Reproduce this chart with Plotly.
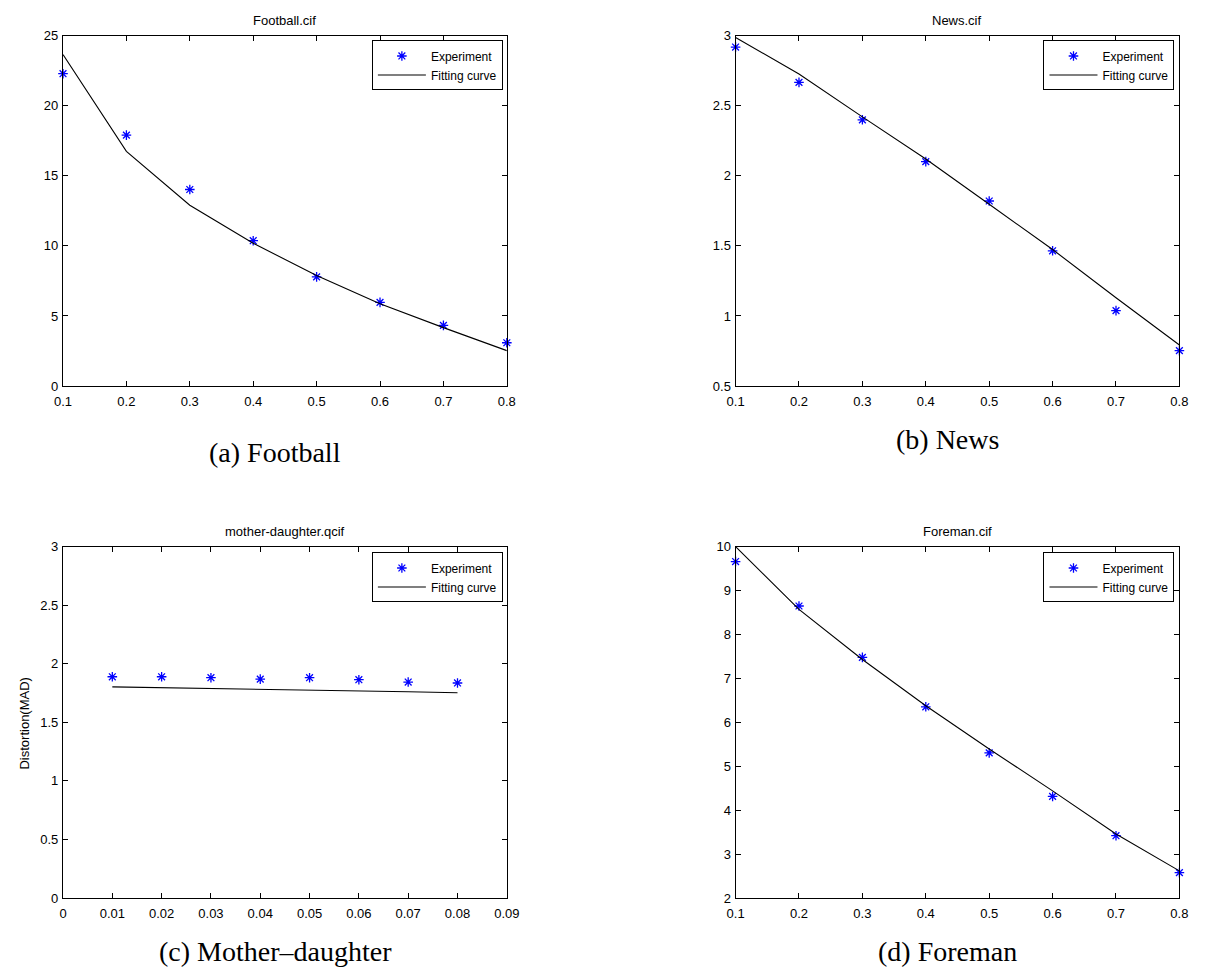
import plotly.graph_objects as go

# ---------------- data ----------------
x_rate = [0.1, 0.2, 0.3, 0.4, 0.5, 0.6, 0.7, 0.8]
x_md = [0.01, 0.02, 0.03, 0.04, 0.05, 0.06, 0.07, 0.08]

football_exp = [22.28, 17.9, 14.02, 10.37, 7.79, 5.97, 4.33, 3.09]
football_fit = [23.64, 16.74, 12.9, 10.19, 7.88, 5.88, 4.17, 2.53]

news_exp = [2.918, 2.666, 2.399, 2.101, 1.82, 1.465, 1.038, 0.753]
news_fit = [2.986, 2.726, 2.42, 2.12, 1.797, 1.474, 1.13, 0.793]

md_exp = [1.889, 1.889, 1.881, 1.869, 1.881, 1.864, 1.844, 1.836]
md_fit = [1.803, 1.797, 1.790, 1.782, 1.773, 1.768, 1.761, 1.753]

foreman_exp = [9.66, 8.648, 7.479, 6.354, 5.305, 4.314, 3.42, 2.579]
foreman_fit = [10.0, 8.57, 7.43, 6.377, 5.394, 4.44, 3.458, 2.62]

x_ticks_rate = [0.1, 0.2, 0.3, 0.4, 0.5, 0.6, 0.7, 0.8]
x_ticklabels_rate = ["0.1", "0.2", "0.3", "0.4", "0.5", "0.6", "0.7", "0.8"]
x_ticks_md = [0, 0.01, 0.02, 0.03, 0.04, 0.05, 0.06, 0.07, 0.08, 0.09]
x_ticklabels_md = ["0", "0.01", "0.02", "0.03", "0.04", "0.05", "0.06", "0.07", "0.08", "0.09"]

y_ticks_football = [0, 5, 10, 15, 20, 25]
y_ticks_news = [0.5, 1, 1.5, 2, 2.5, 3]
y_ticklabels_news = ["0.5", "1", "1.5", "2", "2.5", "3"]
y_ticks_md = [0, 0.5, 1, 1.5, 2, 2.5, 3]
y_ticklabels_md = ["0", "0.5", "1", "1.5", "2", "2.5", "3"]
y_ticks_foreman = [2, 3, 4, 5, 6, 7, 8, 9, 10]

titles = ["Football.cif", "News.cif", "mother-daughter.qcif", "Foreman.cif"]
captions = ["(a) Football", "(b) News", "(c) Mother\u2013daughter", "(d) Foreman"]
legend_names = ["Experiment", "Fitting curve"]

# ---------------- layout geometry ----------------
W, H = 1214, 977

def px_x(p):
    return p / W

def px_y(p):
    return 1 - p / H

panels = [
    dict(x=x_rate, exp=football_exp, fit=football_fit, xr=[0.1, 0.8], yr=[0, 25],
         xt=x_ticks_rate, xtl=x_ticklabels_rate, yt=y_ticks_football,
         ytl=[str(v) for v in y_ticks_football],
         box=(55, 507, 29, 385), leg=(503, 34), cap=(271, 452)),
    dict(x=x_rate, exp=news_exp, fit=news_fit, xr=[0.1, 0.8], yr=[0.5, 3],
         xt=x_ticks_rate, xtl=x_ticklabels_rate, yt=y_ticks_news, ytl=y_ticklabels_news,
         box=(740, 1192, 29, 385), leg=(1187, 34), cap=(956, 439)),
    dict(x=x_md, exp=md_exp, fit=md_fit, xr=[0, 0.09], yr=[0, 3],
         xt=x_ticks_md, xtl=x_ticklabels_md, yt=y_ticks_md, ytl=y_ticklabels_md,
         box=(55, 507, 548, 905), leg=(503, 554), cap=(271, 959)),
    dict(x=x_rate, exp=foreman_exp, fit=foreman_fit, xr=[0.1, 0.8], yr=[2, 10],
         xt=x_ticks_rate, xtl=x_ticklabels_rate, yt=y_ticks_foreman,
         ytl=[str(v) for v in y_ticks_foreman],
         box=(740, 1192, 548, 905), leg=(1187, 554), cap=(956, 959)),
]

fig = go.Figure()
sans = "Liberation Sans, Arial, sans-serif"
tick_font = dict(family=sans, size=13, color="black")
annotations = []

for i, p in enumerate(panels):
    n = "" if i == 0 else str(i + 1)
    xa, ya = "x" + n, "y" + n
    lg = "legend" + n
    fig.add_trace(go.Scatter(
        x=p["x"], y=p["exp"], mode="markers", name=legend_names[0],
        xaxis=xa, yaxis=ya, legend=lg, cliponaxis=False,
        marker=dict(symbol="asterisk-open", size=8, color="blue",
                    line=dict(width=1.3, color="blue"))))
    fig.add_trace(go.Scatter(
        x=p["x"], y=p["fit"], mode="lines", name=legend_names[1],
        xaxis=xa, yaxis=ya, legend=lg, cliponaxis=False,
        line=dict(color="black", width=1.1)))

    x0, x1, y0, y1 = p["box"]
    common = dict(showline=True, linecolor="black", linewidth=1.2, mirror="ticks",
                  ticks="inside", ticklen=5, tickcolor="black", showgrid=False,
                  zeroline=False, tickfont=tick_font)
    fig.update_layout(**{
        "xaxis" + n: dict(domain=[px_x(x0), px_x(x1)], range=p["xr"], anchor=ya,
                          tickvals=p["xt"], ticktext=p["xtl"], ticklabelstandoff=3,
                          **common),
        "yaxis" + n: dict(domain=[px_y(y1), px_y(y0)], range=p["yr"], anchor=xa,
                          tickvals=p["yt"], ticktext=p["ytl"], ticklabelstandoff=1,
                          **common),
    })
    lx, ly = p["leg"]
    fig.update_layout(**{
        lg: dict(x=px_x(lx), y=px_y(ly), xanchor="right", yanchor="top",
                 xref="paper", yref="paper", itemwidth=48,
                 bordercolor="black", borderwidth=1, bgcolor="white",
                 font=dict(family=sans, size=12, color="black"),
                 tracegroupgap=0)
    })
    # subplot title
    annotations.append(dict(
        text=titles[i], x=px_x((x0 + x1) / 2), y=px_y(y0 - 15), xref="paper", yref="paper",
        xanchor="center", yanchor="middle", showarrow=False,
        font=dict(family=sans, size=13, color="black")))
    # caption
    cx, cy = p["cap"]
    annotations.append(dict(
        text=captions[i], x=px_x(cx), y=px_y(cy), xref="paper", yref="paper",
        xanchor="center", yanchor="middle", showarrow=False,
        font=dict(family="Liberation Serif, Times New Roman, serif", size=28, color="black")))

annotations.append(dict(
    text="Distortion(MAD)", x=px_x(16), y=px_y(728), xref="paper", yref="paper",
    xanchor="center", yanchor="middle", showarrow=False, textangle=-90,
    font=dict(family=sans, size=13, color="black")))

fig.update_layout(
    width=W, height=H, margin=dict(l=0, r=0, t=0, b=0),
    paper_bgcolor="white", plot_bgcolor="white",
    annotations=annotations, showlegend=True,
)

fig.write_html("out.html")
